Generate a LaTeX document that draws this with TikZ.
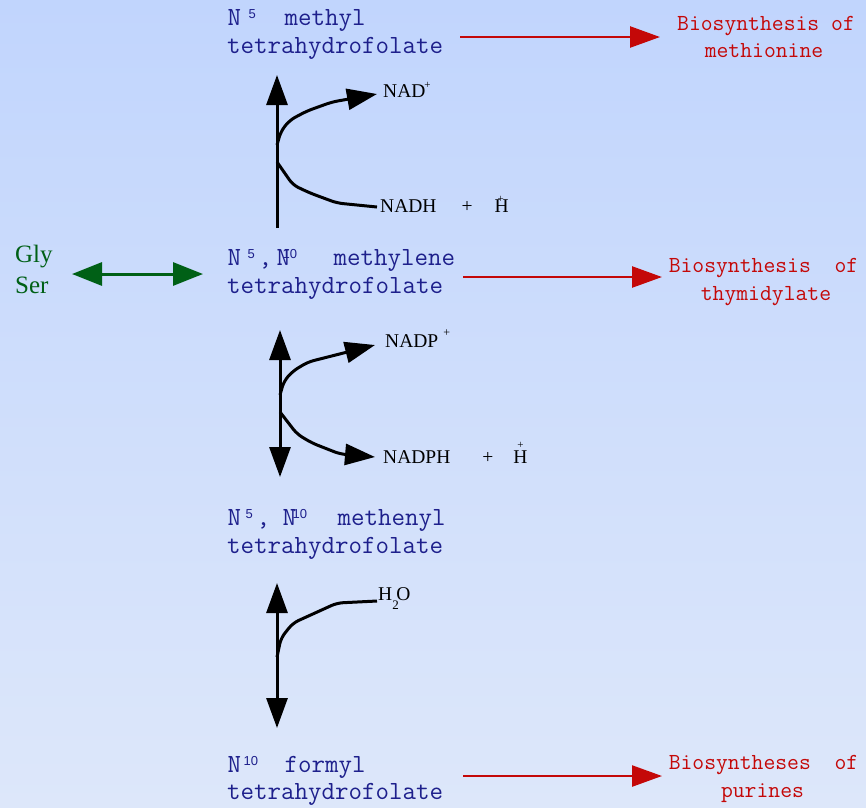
\documentclass[tikz,border=0pt]{standalone}
\usepackage{fontspec}
\setmainfont{Liberation Serif}
\newfontfamily\monof{Latin Modern Mono}
\newfontfamily\supf{Liberation Sans}
\usetikzlibrary{arrows.meta}
\definecolor{bgtop}{RGB}{193,213,253}
\definecolor{bgbot}{RGB}{221,231,250}
\definecolor{cblue}{RGB}{30,32,140}
\definecolor{cred}{RGB}{196,8,8}
\definecolor{cgreen}{RGB}{0,96,22}
\newcommand{\putx}[2]{\rlap{\hspace*{#1pt}#2}}
\newcommand{\supn}[1]{\raisebox{6.5pt}{\supf\fontsize{13}{13}\selectfont #1}}
\newcommand{\smp}[1]{\raisebox{#1pt}{\fontsize{11}{11}\selectfont +}}
\tikzset{
  bluetxt/.style={text=cblue,font=\monof\fontsize{26.2}{28}\selectfont,inner sep=0pt,anchor=base west},
  redtxt/.style={text=cred,font=\monof\fontsize{23}{24}\selectfont,inner sep=0pt,anchor=base},
  nadtxt/.style={text=black,font=\fontsize{19.5}{22}\selectfont,inner sep=0pt,anchor=base west},
  aa/.style={text=cgreen,font=\fontsize{25}{28}\selectfont,inner sep=0pt,anchor=base west},
  blk/.style={draw=black,line width=3pt,rounded corners=6pt},
  btip/.style={-{Triangle[length=30pt,width=21pt]}},
  bbtip/.style={{Triangle[length=30pt,width=21pt]}-{Triangle[length=30pt,width=21pt]}},
  redarr/.style={draw=cred,line width=2.5pt,-{Triangle[length=30pt,width=21pt]}},
  grnarr/.style={draw=cgreen,line width=3pt,{Triangle[length=30pt,width=23pt]}-{Triangle[length=30pt,width=23pt]}}
}
\begin{document}
\begin{tikzpicture}[x=1pt,y=-1pt]
\useasboundingbox (0,0) rectangle (866,807);
\shade[top color=bgtop,bottom color=bgbot] (0,0) rectangle (866,807);

% compounds
\node[bluetxt] (n1a) at (227,25) {\putx{0}{N}\putx{21}{\supn{5}}\putx{57}{methyl}};
\node[bluetxt] (n1b) at (227,53) {tetrahydrofolate};
\node[bluetxt] (n2a) at (227,265) {\putx{0}{N}\putx{20}{\supn{5}}\putx{31}{,}\putx{49}{N}\putx{55}{\supn{10}}\putx{106}{methylene}};
\node[bluetxt] (n2b) at (227,293) {tetrahydrofolate};
\node[bluetxt] (n3a) at (227,525) {\putx{0}{N}\putx{18}{\supn{5}}\putx{29}{,}\putx{55}{N}\putx{65}{\supn{10}}\putx{110}{methenyl}};
\node[bluetxt] (n3b) at (227,553) {tetrahydrofolate};
\node[bluetxt] (n4a) at (227,772) {\putx{0}{N}\putx{16}{\supn{10}}\putx{57}{formyl}};
\node[bluetxt] (n4b) at (227,799) {tetrahydrofolate};

% products
\node[redtxt] (r1a) at (766,30) {Biosynthesis of};
\node[redtxt] (r1b) at (764,57) {methionine};
\node[redtxt] (r2a) at (763.5,272) {Biosynthesis\ \ of};
\node[redtxt] (r2b) at (766,300) {thymidylate};
\node[redtxt] (r3a) at (763.5,769) {Biosyntheses\ \ of};
\node[redtxt] (r3b) at (762.5,797) {purines};

% Gly / Ser
\node[aa] (gly) at (15,262) {Gly};
\node[aa] (ser) at (15,293) {Ser};

% cofactors
\node[nadtxt] (nad) at (383,97) {NAD\kern-1pt\raisebox{9pt}{\fontsize{11}{11}\selectfont +}};
\node[nadtxt] (nadh) at (380,212) {NADH\putx{25}{+}\putx{58}{H}\putx{61}{\smp{10}}};
\node[nadtxt] (nadp) at (385,347) {NADP\kern5pt\raisebox{11pt}{\fontsize{12}{12}\selectfont +}};
\node[nadtxt] (nadph) at (383,463) {NADPH\putx{32}{+}\putx{63}{H}\putx{67}{\smp{15}}};
\node[nadtxt] (h2o) at (378,600) {H\rlap{\raisebox{-9pt}{\fontsize{13}{13}\selectfont 2}}\kern4pt O};

% coordinates of connector ends
\coordinate (v1t) at (277,75);  \coordinate (v1b) at (277,228);
\coordinate (b1s) at (277,145); \coordinate (b1e) at (377,94);
\coordinate (b2s) at (277,162); \coordinate (b2e) at (377,207);
\coordinate (v2t) at (280,330); \coordinate (v2b) at (280,477);
\coordinate (c1s) at (280,395); \coordinate (c1e) at (375,345);
\coordinate (c2s) at (280,412); \coordinate (c2e) at (375,457);
\coordinate (v3t) at (277,583); \coordinate (v3b) at (277,728);
\coordinate (d1s) at (277,657); \coordinate (d1e) at (377,601);
\coordinate (g1) at (72,274);   \coordinate (g2) at (203,274);
\coordinate (ra1) at (460,37);  \coordinate (ra2) at (660,37);
\coordinate (rb1) at (463,277); \coordinate (rb2) at (662,277);
\coordinate (rc1) at (463,776); \coordinate (rc2) at (662,776);

% black reaction arrows
\draw[blk,btip] (v1b) -- (v1t);
\draw[blk,btip] (b1s) -- (281,131) -- (290,120) -- (307,111) -- (332,102) -- (b1e);
\draw[blk] (b2s) -- (293,185) -- (310,193) -- (337,203) -- (b2e);
\draw[blk,bbtip] (v2b) -- (v2t);
\draw[blk,btip] (c1s) -- (284,381) -- (293,371) -- (308,362) -- (c1e);
\draw[blk,btip] (c2s) -- (297,434) -- (312,443) -- (340,454) -- (c2e);
\draw[blk,bbtip] (v3b) -- (v3t);
\draw[blk] (d1s) -- (281,638) -- (293,623) -- (337,603) -- (d1e);

% green and red arrows
\draw[grnarr] (g1) -- (g2);
\draw[redarr] (ra1) -- (ra2);
\draw[redarr] (rb1) -- (rb2);
\draw[redarr] (rc1) -- (rc2);
\end{tikzpicture}
\end{document}
